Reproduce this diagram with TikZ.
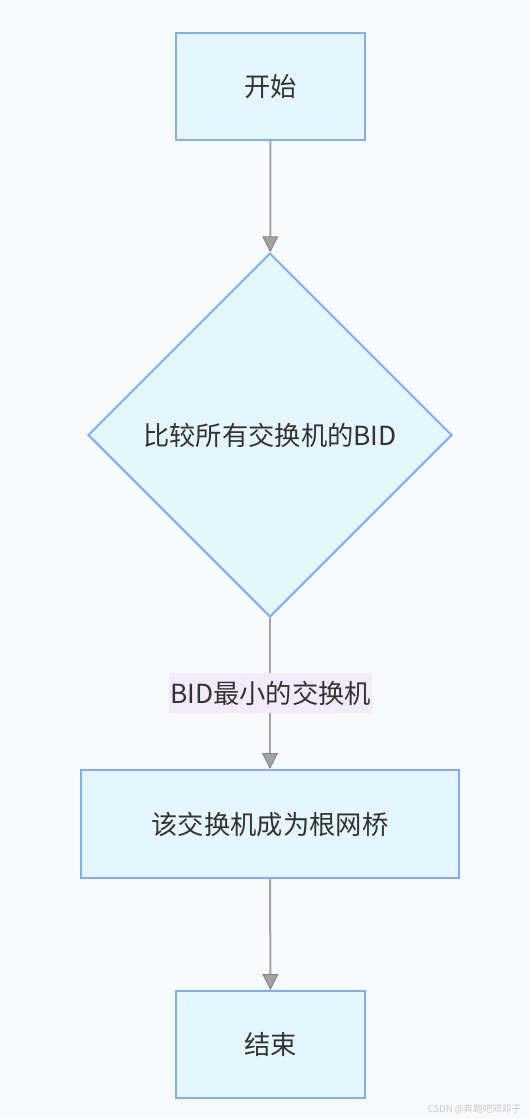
\documentclass[tikz,border=0pt]{standalone}
\usepackage{fontspec}
\setmainfont{Noto Sans CJK SC}
\usetikzlibrary{shapes.geometric,arrows.meta}
\definecolor{bgcol}{HTML}{F9FAFC}
\definecolor{boxfill}{HTML}{E6F6FF}
\definecolor{boxline}{HTML}{7EB0F8}
\definecolor{linecol}{HTML}{A3A3A3}
\definecolor{tipcol}{HTML}{888888}
\definecolor{labelfill}{HTML}{F3EAFB}
\definecolor{txtcol}{HTML}{333333}
\tikzset{
  box/.style={draw=boxline, fill=boxfill, line width=2pt, text=txtcol,
    font=\fontsize{26.3}{31}\selectfont, inner sep=0pt},
  decision/.style={box, diamond, aspect=1, minimum width=364pt, minimum height=364pt},
  flow/.style={draw=linecol, line width=2pt,
    -{Triangle[length=16pt,width=16pt,fill=linecol,color=tipcol,line width=1pt]}},
}
\begin{document}
\begin{tikzpicture}[x=1pt,y=-1pt]
\fill[bgcol] (0,0) rectangle (529,1119);
\useasboundingbox (0,0) rectangle (529,1119);

\node[box, minimum width=189pt, minimum height=107pt] (start) at (270.5,86.5) {开始};
\node[decision] (compare) at (270,435) {比较所有交换机的BID};
\node[box, minimum width=378pt, minimum height=108pt] (root) at (270,824) {该交换机成为根网桥};
\node[box, minimum width=189pt, minimum height=107pt] (stop) at (270.5,1044.5) {结束};

\path[flow] (start) -- (compare);
\path[flow] (compare) -- (root);
\path[flow] (root) -- (stop);

\node[fill=labelfill, text=txtcol, font=\fontsize{26.3}{31}\selectfont,
  inner xsep=1pt, inner ysep=0pt, minimum height=40pt] (cond) at (270.5,693) {BID最小的交换机};

\node[anchor=base east, text=black!22, font=\fontsize{9.5}{11}\selectfont, inner sep=0pt]
  (mark) at (521,1112) {CSDN @奔跑吧邓邓子};
\end{tikzpicture}
\end{document}
